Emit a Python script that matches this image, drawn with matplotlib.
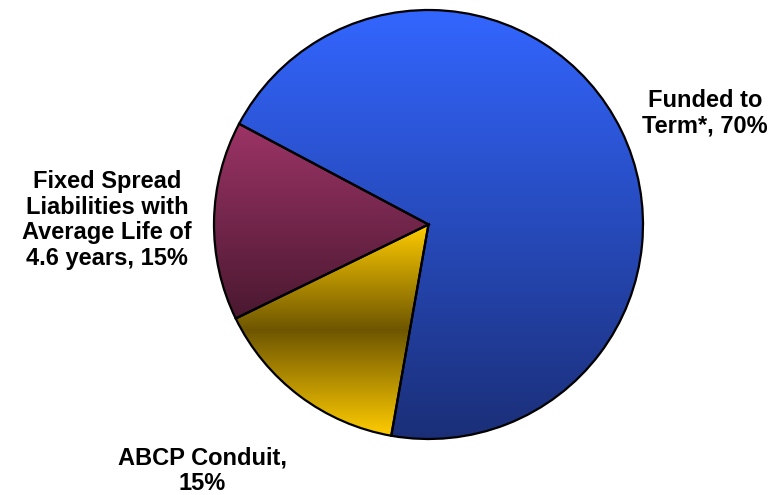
import numpy as np
import matplotlib.pyplot as plt
from matplotlib.colors import LinearSegmentedColormap

# datos del gráfico
etiquetas = ['Fixed Spread\nLiabilities with\nAverage Life of\n4.6 years, 15%',
             'ABCP Conduit,\n15%',
             'Funded to\nTerm*, 70%']
valores = [15, 15, 70]

# degradados verticales (de arriba hacia abajo) de cada porción
degradados = [
    ['#9c3466', '#4a1830'],
    ['#ffcc00', '#6e5600', '#ffcc00'],
    ['#3366ff', '#1b2f78'],
]

W, H = 780, 495
fig = plt.figure(figsize=(W / 100, H / 100), dpi=100)
ax = fig.add_axes([0, 0, 1, 1])

centro = (428.5, H - 224.5)
radio = 214.5

wedges, _ = ax.pie(valores, startangle=152, counterclock=True,
                   center=centro, radius=radio,
                   wedgeprops=dict(edgecolor='black', linewidth=1.6, facecolor='none'))

# relleno con degradado recortado a cada porción
for w, cols in zip(wedges, degradados):
    ext = w.get_path().get_extents()
    cmap = LinearSegmentedColormap.from_list('g', cols)
    grad = np.linspace(0, 1, 256).reshape(-1, 1)
    im = ax.imshow(grad, cmap=cmap, aspect='auto', origin='upper',
                   extent=[ext.x0, ext.x1, ext.y0, ext.y1], zorder=0.5)
    im.set_clip_path(w)
    w.set_zorder(1)

ax.set_xlim(0, W)
ax.set_ylim(0, H)
ax.set_aspect('auto')
ax.axis('off')

fuente = dict(family=['Liberation Sans', 'DejaVu Sans'], fontsize=17,
              fontweight='bold', ha='center', va='center', linespacing=1.13)
ax.text(107, H - 220, etiquetas[0], **fuente)
ax.text(202, H - 471, etiquetas[1], **fuente)
ax.text(705, H - 113, etiquetas[2], **fuente)

fig.savefig('out.png', dpi=100)
